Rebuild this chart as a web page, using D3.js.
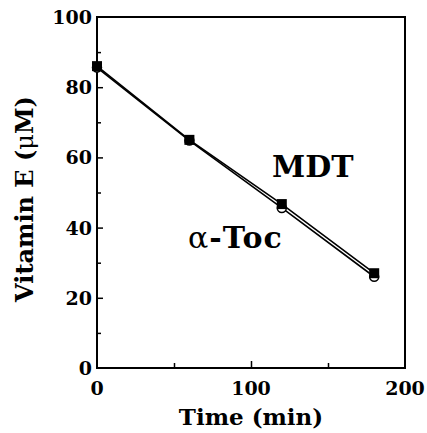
<!DOCTYPE html>
<html>
<head>
<meta charset="utf-8">
<script src="https://cdn.jsdelivr.net/npm/d3@7"></script>
<style>
body { margin: 0; background: #fff; }
text { font-family: "DejaVu Serif", serif; fill: #000; }
</style>
</head>
<body>
<svg id="chart"></svg>
<script>
var times = [0, 60, 120, 180];
var mdtValues = [86, 65, 46.7, 27];
var tocValues = [85.6, 64.8, 45.6, 26];
var xTicks = [0, 100, 200];
var yTicks = [0, 20, 40, 60, 80, 100];

var margin = { top: 17, right: 22, bottom: 65, left: 97 },
    width = 427 - margin.left - margin.right,
    height = 433 - margin.top - margin.bottom;

var xScale = d3.scaleLinear().domain([0, 200]).range([0, width]);
var yScale = d3.scaleLinear().domain([0, 100]).range([height, 0]);

var svg = d3.select("#chart")
    .attr("width", 427)
    .attr("height", 433)
    .append("g")
    .attr("transform", "translate(" + margin.left + "," + margin.top + ")");

// inward ticks, labels placed outside
var xAxis = d3.axisBottom(xScale).tickValues([50, 100, 150])
    .tickSize(-5).tickFormat("");
var yAxis = d3.axisLeft(yScale).tickValues(d3.range(10, 100, 10))
    .tickSize(-5).tickFormat("");

svg.append("g")
    .attr("class", "x axis")
    .attr("transform", "translate(0," + height + ")")
    .call(xAxis)
    .call(function (g) { g.select(".domain").remove(); })
    .selectAll("line")
    .attr("y2", function (d) { return d === 100 ? -7 : -5; })
    .attr("stroke-width", 1.5);

svg.append("g")
    .attr("class", "y axis")
    .call(yAxis)
    .call(function (g) { g.select(".domain").remove(); })
    .selectAll("line")
    .attr("x2", function (d) { return d % 20 === 0 ? 6 : 4; })
    .attr("stroke-width", 1.5);

svg.append("rect")
    .attr("width", width)
    .attr("height", height)
    .attr("fill", "none")
    .attr("stroke", "#000")
    .attr("stroke-width", 2);

svg.selectAll(".xlab")
    .data(xTicks)
    .enter().append("text")
    .attr("class", "xlab")
    .attr("x", function (d) { return xScale(d); })
    .attr("y", height + 27)
    .attr("text-anchor", "middle")
    .style("font-size", "19px")
    .style("font-weight", "bold")
    .text(function (d) { return d; });

svg.selectAll(".ylab")
    .data(yTicks)
    .enter().append("text")
    .attr("class", "ylab")
    .attr("x", -5)
    .attr("y", function (d) { return yScale(d) + 7; })
    .attr("text-anchor", "end")
    .style("font-size", "19px")
    .style("font-weight", "bold")
    .text(function (d) { return d; });

svg.append("text")
    .attr("x", width / 2)
    .attr("y", height + 57)
    .attr("text-anchor", "middle")
    .style("font-size", "23px")
    .style("font-weight", "bold")
    .text("Time (min)");

var yLabel = svg.append("text")
    .attr("transform", "rotate(-90)")
    .attr("x", -182)
    .attr("y", -64)
    .attr("text-anchor", "middle")
    .style("font-size", "24px")
    .style("font-weight", "bold");
yLabel.append("tspan").text("Vitamin E (");
yLabel.append("tspan").style("font-weight", "normal").text("\u03bc");
yLabel.append("tspan").text("M)");

var line = d3.line()
    .x(function (d, i) { return xScale(times[i]); })
    .y(function (d) { return yScale(d); });

[tocValues, mdtValues].forEach(function (vals) {
    svg.append("path")
        .datum(vals)
        .attr("d", line)
        .attr("fill", "none")
        .attr("stroke", "#000")
        .attr("stroke-width", 1.6);
});

svg.selectAll(".toc")
    .data(tocValues)
    .enter().append("circle")
    .attr("class", "toc")
    .attr("cx", function (d, i) { return xScale(times[i]); })
    .attr("cy", function (d) { return yScale(d); })
    .attr("r", 4.5)
    .attr("fill", "#fff")
    .attr("stroke", "#000")
    .attr("stroke-width", 1.5);

svg.selectAll(".mdt")
    .data(mdtValues)
    .enter().append("rect")
    .attr("class", "mdt")
    .attr("x", function (d, i) { return xScale(times[i]) - 5; })
    .attr("y", function (d) { return yScale(d) - 5; })
    .attr("width", 10)
    .attr("height", 10)
    .attr("fill", "#000");

svg.append("text")
    .attr("x", 175)
    .attr("y", 160)
    .style("font-size", "30px")
    .style("font-weight", "bold")
    .text("MDT");

var tocLabel = svg.append("text")
    .attr("x", 91)
    .attr("y", 231)
    .style("font-size", "30px")
    .style("letter-spacing", "1px");
tocLabel.append("tspan").text("\u03b1");
tocLabel.append("tspan").style("font-weight", "bold").text("-Toc");
</script>
</body>
</html>
